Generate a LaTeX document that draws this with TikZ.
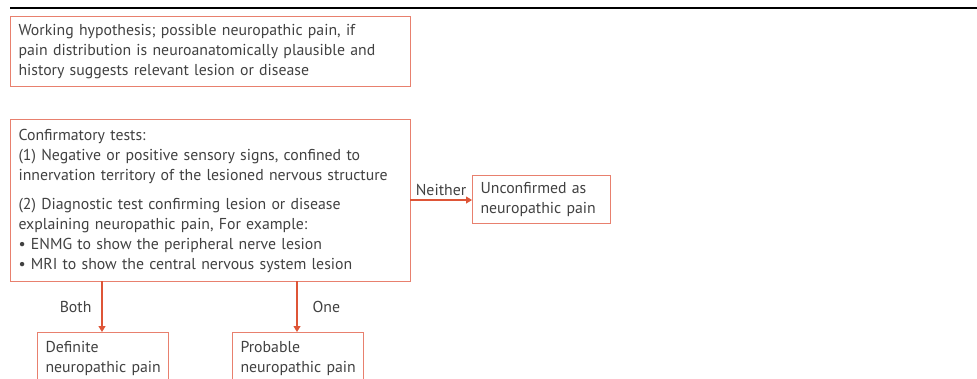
\documentclass[tikz,border=0pt]{standalone}
\usepackage{fontspec}
\setmainfont{PT Sans}
\usetikzlibrary{arrows.meta,positioning}
\definecolor{boxc}{RGB}{232,128,110}
\definecolor{arrc}{RGB}{222,85,55}
\definecolor{txtc}{RGB}{65,65,65}
\tikzset{
  boxn/.style={draw=boxc, line width=1.1pt, anchor=north west, align=left, inner xsep=8pt, inner ysep=4pt,
    font=\fontsize{15.8}{20}\selectfont, text=txtc},
  arr/.style={draw=arrc, line width=1.1pt, -{Triangle[length=6pt,width=7pt]}},
  lab/.style={font=\fontsize{15.8}{16}\selectfont, text=txtc, inner sep=1pt}
}
\begin{document}
\begin{tikzpicture}[x=1pt,y=-1pt]
\useasboundingbox (0,0) rectangle (977,378);
\clip (0,0) rectangle (977,378);
\coordinate (l1) at (10,8);
\coordinate (l2) at (977,8);
\draw[line width=2pt, black] (l1) -- (l2);
\node[boxn, minimum width=400pt, minimum height=70pt, text width=384pt] (w) at (10,16)
 {Working hypothesis; possible neuropathic pain, if\\pain distribution is neuroanatomically plausible and\\history suggests relevant lesion or disease};
\node[boxn, minimum width=400pt, minimum height=162pt, text width=384pt] (c) at (10,119)
 {Confirmatory tests:\\(1) Negative or positive sensory signs, confined to\\innervation territory of the lesioned nervous structure\\[9pt](2) Diagnostic test confirming lesion or disease\\explaining neuropathic pain, For example:\\\textbullet\ ENMG to show the peripheral nerve lesion\\\textbullet\ MRI to show the central nervous system lesion};
\node[boxn, minimum width=138pt, minimum height=48pt, text width=122pt] (u) at (472,175)
 {\mbox{Unconfirmed as}\\\mbox{neuropathic pain}};
\node[boxn, minimum width=131pt, minimum height=52pt, text width=115pt] (d) at (37,332)
 {\mbox{Definite}\\\mbox{neuropathic pain}};
\node[boxn, minimum width=131pt, minimum height=52pt, text width=115pt] (p) at (232,332)
 {\mbox{Probable}\\\mbox{neuropathic pain}};
\coordinate (ce) at (410,200);
\draw[arr] (ce) -- (u.west |- ce) node[lab, midway, above, yshift=3pt] {Neither};
\coordinate (cb) at (102,281);
\coordinate (co) at (297,281);
\draw[arr] (cb) -- (cb |- d.north) node[lab, midway, left, xshift=-9pt] {Both};
\draw[arr] (co) -- (co |- p.north) node[lab, midway, right, xshift=14pt] {One};
\end{tikzpicture}
\end{document}
